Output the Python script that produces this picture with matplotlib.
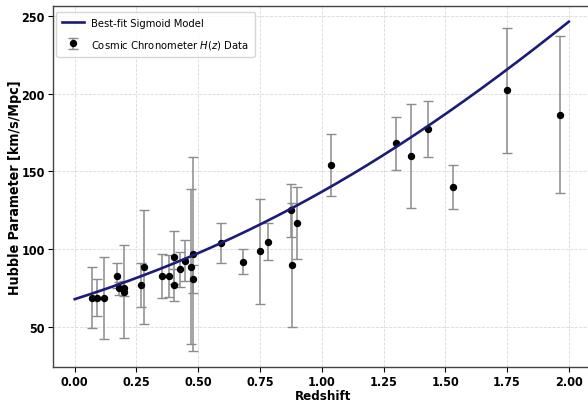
import numpy as np
import matplotlib
matplotlib.use("Agg")
import matplotlib.pyplot as plt

# Cosmic chronometer H(z) measurements
z_obs = [0.07, 0.09, 0.12, 0.17, 0.179, 0.199, 0.20, 0.27, 0.28, 0.352,
         0.38, 0.40, 0.4004, 0.425, 0.445, 0.47, 0.4783, 0.48, 0.593, 0.68,
         0.75, 0.781, 0.875, 0.88, 0.90, 1.037, 1.30, 1.363, 1.43, 1.53,
         1.75, 1.965]
H_obs = [69.0, 69.0, 68.6, 83.0, 75.0, 75.0, 72.9, 77.0, 88.8, 83.0,
         83.0, 95.0, 77.0, 87.1, 92.8, 89.0, 80.9, 97.0, 104.0, 92.0,
         98.8, 105.0, 125.0, 90.0, 117.0, 154.0, 168.0, 160.0, 177.0, 140.0,
         202.0, 186.5]
H_err = [19.6, 12.0, 26.2, 8.0, 4.0, 5.0, 29.6, 14.0, 36.6, 14.0,
         13.5, 17.0, 10.2, 11.2, 12.9, 50.0, 9.0, 62.0, 13.0, 8.0,
         33.6, 12.0, 17.0, 40.0, 23.0, 20.0, 17.0, 33.6, 18.0, 14.0,
         40.0, 50.4]

# best-fit sigmoid parameters: H(z) = L / (1 + exp(-k (z - z0)))
L_fit = 650.0
k_fit = 0.8255
z0_fit = 2.60


def sigmoid(z, L, k, z0):
    return L / (1.0 + np.exp(-k * (z - z0)))


z_model = np.linspace(0, 2, 300)
H_model = sigmoid(z_model, L_fit, k_fit, z0_fit)

plt.rcParams['font.family'] = ['DejaVu Sans']
plt.rcParams['font.stretch'] = 'condensed'

fig = plt.figure(figsize=(5.88, 4.02), dpi=100)
ax = fig.add_axes([52.5 / 588, 34 / 402, 541 / 588, 361 / 402])

ax.plot(z_model, H_model, color='#1c1c78', linewidth=1.9,
        label='Best-fit Sigmoid Model', zorder=3)
ax.errorbar(z_obs, H_obs, yerr=H_err, fmt='o', color='black', markersize=4.3,
            ecolor='#8c8c8c', elinewidth=1.1, capsize=3.5, capthick=1.0,
            label='Cosmic Chronometer $H(z)$ Data', zorder=2)

ax.set_xlim(-0.09, 2.1)
ax.set_ylim(24.5, 256.2)
ax.set_xticks([0.0, 0.25, 0.5, 0.75, 1.0, 1.25, 1.5, 1.75, 2.0])
ax.set_yticks([50, 100, 150, 200, 250])

ax.set_xlabel('Redshift', fontsize=9.5, fontweight='bold', labelpad=1,
              fontstretch='condensed')
ax.set_ylabel('Hubble Parameter [km/s/Mpc]', fontsize=10.2, fontweight='bold',
              labelpad=-0.5, fontstretch='condensed')
for lbl in ax.get_xticklabels() + ax.get_yticklabels():
    lbl.set_fontweight('bold')
    lbl.set_fontstretch('condensed')
ax.tick_params(labelsize=9, length=3.5, width=0.8, pad=2)

ax.grid(True, linestyle='--', linewidth=0.6, color='#d0d0d0', alpha=0.8)
for side in ['top', 'left', 'bottom', 'right']:
    ax.spines[side].set_color('#444444')
    ax.spines[side].set_linewidth(1.0)

ax.legend(loc='upper left', bbox_to_anchor=(3.5 / 541, 1 - 6 / 361),
          borderaxespad=0, frameon=True, borderpad=0.55,
          labelspacing=0.85, handlelength=2.0, handletextpad=0.6,
          prop={'family': 'DejaVu Sans', 'stretch': 'condensed', 'size': 8})

fig.savefig('out.png', dpi=100)
